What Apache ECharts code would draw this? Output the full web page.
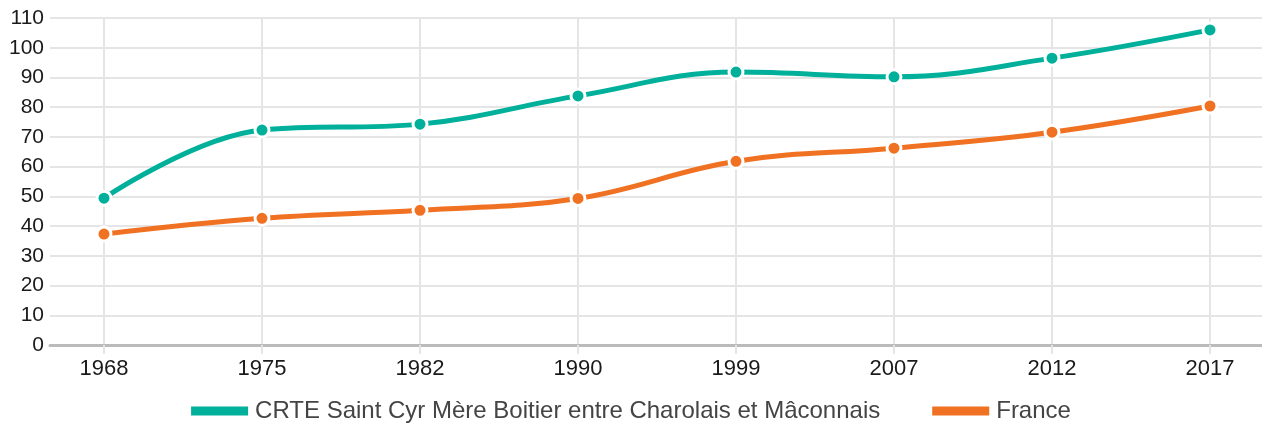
<!DOCTYPE html>
<html>
<head>
<meta charset="utf-8">
<script src="https://cdn.jsdelivr.net/npm/echarts@6/dist/echarts.min.js"></script>
<style>html,body{margin:0;padding:0;background:#fff}#c{width:1262px;height:423px}</style>
</head>
<body>
<div id="c"></div>
<script>
const categories = ['1968', '1975', '1982', '1990', '1999', '2007', '2012', '2017'];
const crteName = 'CRTE Saint Cyr Mère Boitier entre Charolais et Mâconnais';
const crteValues = [49.4, 72.3, 74.3, 83.8, 91.8, 90.2, 96.5, 106.0];
const franceName = 'France';
const franceValues = [37.3, 42.6, 45.3, 49.3, 61.8, 66.2, 71.6, 80.4];
const yTicks = { min: 0, max: 110, interval: 10 };

const chart = echarts.init(document.getElementById('c'));
const font = 'Liberation Sans, Arial, sans-serif';
const gridCol = '#e5e5e5';
chart.setOption({
  animation: false,
  grid: [
    { left: 50, right: 0, top: 18, bottom: 78 },
    { left: 104, right: 52, top: 18, bottom: 78 }
  ],
  legend: {
    data: [crteName, franceName],
    top: 394,
    left: 'center',
    itemWidth: 57,
    itemHeight: 9,
    itemGap: 52,
    icon: 'rect',
    itemStyle: { borderWidth: 0 },
    textStyle: { fontFamily: font, fontSize: 24, color: '#444', padding: [0, 0, 0, 2] }
  },
  xAxis: [
    { gridIndex: 0, type: 'value', min: 0, max: 1, axisLabel: { show: false }, axisTick: { show: false }, splitLine: { show: false },
      axisLine: { show: true, lineStyle: { color: '#bbbbbb', width: 3 } } },
    { gridIndex: 1, type: 'category', data: categories, boundaryGap: false,
      axisLine: { show: false },
      axisTick: { show: true, length: 9, lineStyle: { color: gridCol, width: 2 } },
      splitLine: { show: true, lineStyle: { color: gridCol, width: 2 } },
      axisLabel: { fontFamily: font, fontSize: 22, color: '#1a1a1a', margin: 13 } }
  ],
  yAxis: [
    { gridIndex: 0, type: 'value', min: yTicks.min, max: yTicks.max, interval: yTicks.interval,
      axisLine: { show: false }, axisTick: { show: false },
      splitLine: { show: true, lineStyle: { color: gridCol, width: 2 } },
      axisLabel: { fontFamily: font, fontSize: 21, color: '#1a1a1a', margin: 6 } },
    { gridIndex: 1, type: 'value', min: yTicks.min, max: yTicks.max, interval: yTicks.interval, show: false,
      splitLine: { show: false } }
  ],
  series: [
    { name: crteName, type: 'line', xAxisIndex: 1, yAxisIndex: 1, data: crteValues, smooth: 0.4,
      symbol: 'circle', symbolSize: 14, color: '#00b09b',
      lineStyle: { width: 5, color: '#00b09b' },
      itemStyle: { color: '#00b09b', borderColor: '#fff', borderWidth: 3 }, z: 3 },
    { name: franceName, type: 'line', xAxisIndex: 1, yAxisIndex: 1, data: franceValues, smooth: 0.4,
      symbol: 'circle', symbolSize: 14, color: '#ef7121',
      lineStyle: { width: 5, color: '#ef7121' },
      itemStyle: { color: '#ef7121', borderColor: '#fff', borderWidth: 3 }, z: 3 }
  ]
});
</script>
</body>
</html>
